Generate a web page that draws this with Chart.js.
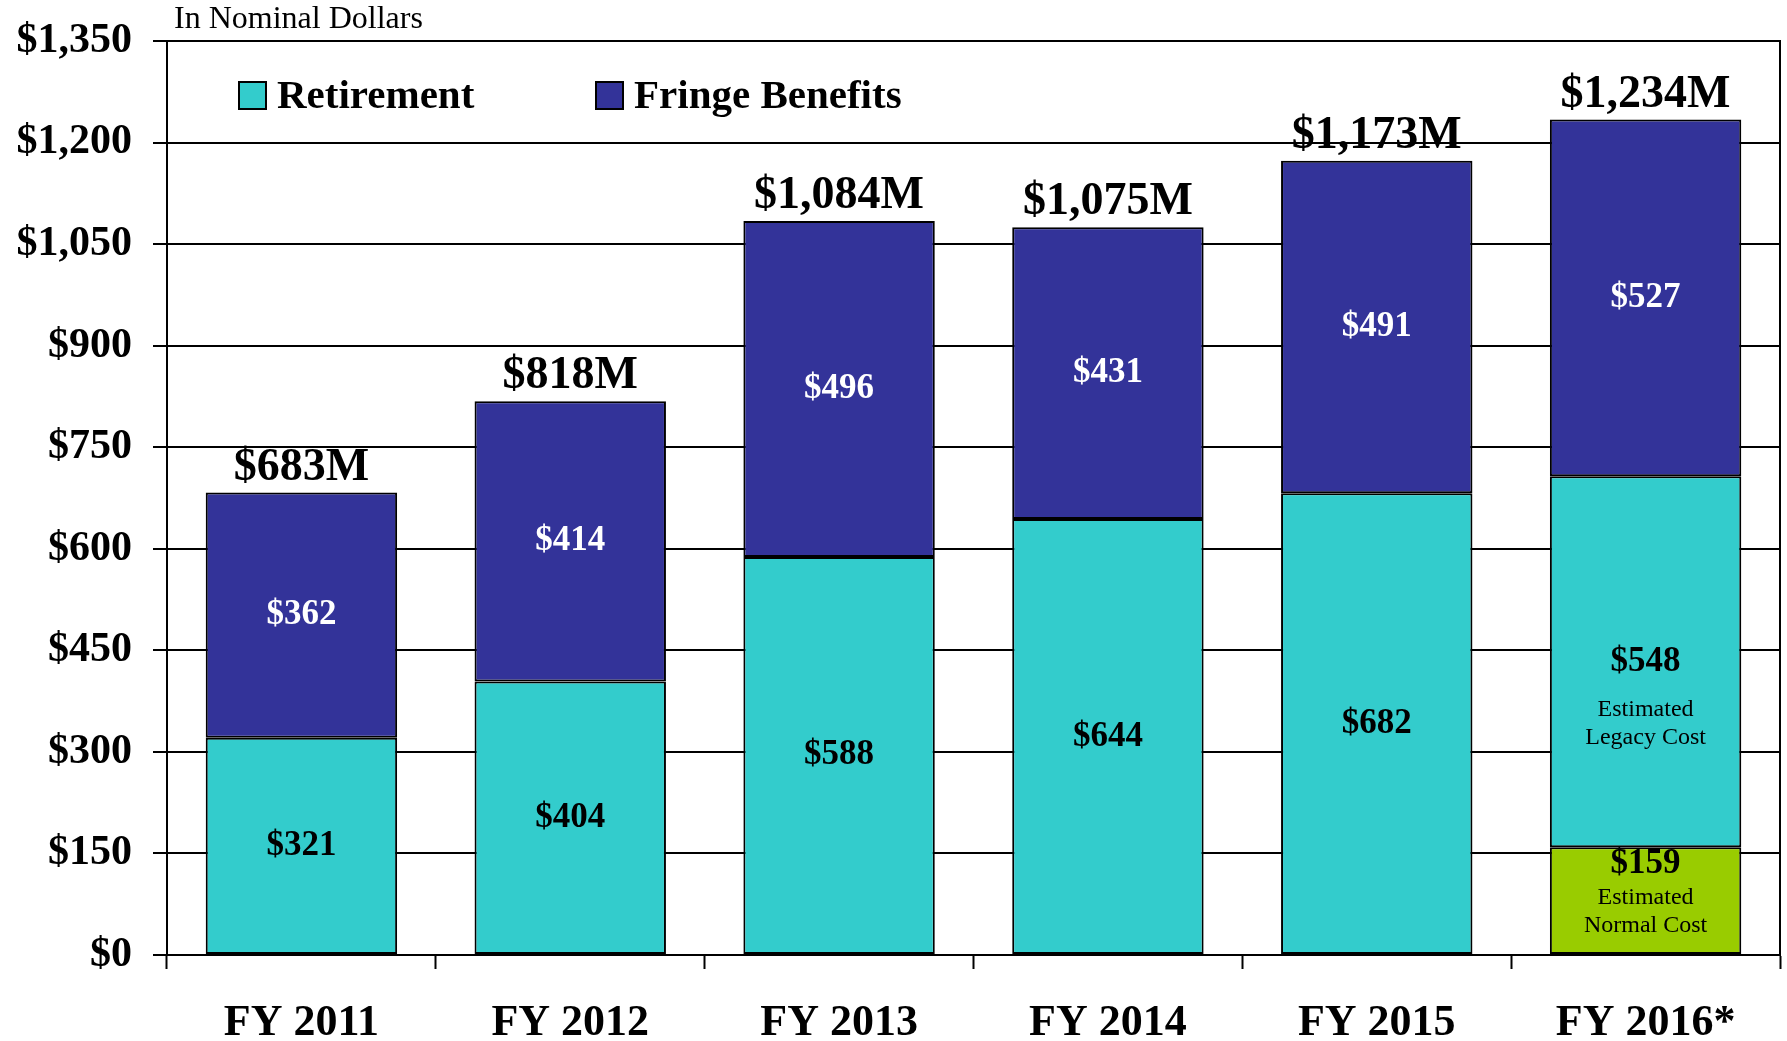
<!DOCTYPE html>
<html lang="en">
<head>
    <meta charset="UTF-8">
    <title>Retirement and Fringe Benefits, FY 2011 - FY 2016</title>
    <script src="https://cdn.jsdelivr.net/npm/chart.js"></script>
    <style>
        body { margin: 0; background: #fff; }
        #wrap { width: 1787px; height: 1041px; }
    </style>
</head>
<body>
    <div id="wrap">
        <canvas id="benefitsChart"></canvas>
    </div>

    <script>
        // Data (millions of dollars)
        const years = ['FY 2011', 'FY 2012', 'FY 2013', 'FY 2014', 'FY 2015', 'FY 2016*'];
        const normalCost = [null, null, null, null, null, 159];
        const retirement = [321, 404, 588, 644, 682, 548];
        const fringe = [362, 414, 496, 431, 491, 527];
        const totals = [683, 818, 1084, 1075, 1173, 1234];
        const yTicks = [0, 150, 300, 450, 600, 750, 900, 1050, 1200, 1350];

        const serif = '"Liberation Serif", "Times New Roman", serif';
        const money = v => '$' + v.toLocaleString('en-US');

        // notes under the FY 2016 labels
        const notes = {
            0: ['Estimated', 'Normal Cost'],
            1: ['Estimated', 'Legacy Cost']
        };

        const labelPlugin = {
            id: 'barLabels',
            afterDatasetsDraw(chart) {
                const ctx = chart.ctx;
                ctx.save();
                ctx.textAlign = 'center';
                ctx.textBaseline = 'middle';

                chart.data.datasets.forEach((ds, di) => {
                    const meta = chart.getDatasetMeta(di);
                    meta.data.forEach((bar, i) => {
                        const v = ds.data[i];
                        if (v == null) return;
                        const mid = (bar.y + bar.base) / 2;
                        ctx.fillStyle = ds.labelColor;
                        ctx.font = 'bold 35px ' + serif;
                        const note = (i === years.length - 1) ? notes[di] : null;
                        if (note && di === 0) {
                            // small segment: stack value and note around the middle
                            ctx.fillText(money(v), bar.x, mid - 37);
                            ctx.font = '24px ' + serif;
                            ctx.fillText(note[0], bar.x, mid - 3);
                            ctx.fillText(note[1], bar.x, mid + 25);
                        } else {
                            ctx.fillText(money(v), bar.x, mid);
                            if (note) {
                                ctx.font = '24px ' + serif;
                                ctx.fillText(note[0], bar.x, mid + 48);
                                ctx.fillText(note[1], bar.x, mid + 76);
                            }
                        }
                    });
                });

                // totals above each stack
                const top = chart.getDatasetMeta(2);
                ctx.fillStyle = '#000';
                ctx.font = 'bold 46px ' + serif;
                ctx.textBaseline = 'alphabetic';
                top.data.forEach((bar, i) => {
                    ctx.fillText(money(totals[i]) + 'M', bar.x, bar.y - 13);
                });

                // legend inside the plot, and the units note
                const a = chart.chartArea;
                const items = [
                    { text: 'Retirement', color: '#33CCCC', x: a.left + 72 },
                    { text: 'Fringe Benefits', color: '#333399', x: a.left + 429 }
                ];
                ctx.textAlign = 'left';
                ctx.textBaseline = 'middle';
                ctx.font = 'bold 41px ' + serif;
                items.forEach(it => {
                    ctx.fillStyle = it.color;
                    ctx.fillRect(it.x, a.top + 41, 27, 27);
                    ctx.strokeStyle = '#000';
                    ctx.lineWidth = 2;
                    ctx.strokeRect(it.x, a.top + 41, 27, 27);
                    ctx.fillStyle = '#000';
                    ctx.fillText(it.text, it.x + 38, a.top + 56);
                });

                ctx.font = '32px ' + serif;
                ctx.fillText('In Nominal Dollars', a.left + 7, 20);
                ctx.restore();
            }
        };

        const ctx = document.getElementById('benefitsChart').getContext('2d');
        new Chart(ctx, {
            type: 'bar',
            data: {
                labels: years,
                datasets: [
                    { label: 'Estimated Normal Cost', data: normalCost, backgroundColor: '#99CC00', labelColor: '#000' },
                    { label: 'Retirement', data: retirement, backgroundColor: '#33CCCC', labelColor: '#000' },
                    { label: 'Fringe Benefits', data: fringe, backgroundColor: '#333399', labelColor: '#fff' }
                ]
            },
            options: {
                responsive: true,
                maintainAspectRatio: false,
                animation: false,
                layout: { padding: { top: 41, left: 0, right: 0, bottom: 0 } },
                datasets: {
                    bar: {
                        stack: 'all',
                        barPercentage: 0.712,
                        categoryPercentage: 1,
                        borderColor: '#000',
                        borderWidth: 2,
                        borderSkipped: false
                    }
                },
                plugins: {
                    legend: { display: false },
                    tooltip: { enabled: false }
                },
                scales: {
                    x: {
                        stacked: true,
                        afterFit: s => { s.height = 86; },
                        grid: {
                            offset: true,
                            drawOnChartArea: false,
                            tickLength: 14,
                            tickColor: '#000',
                            tickWidth: 2
                        },
                        border: { color: '#000', width: 2 },
                        ticks: {
                            color: '#000',
                            padding: 28,
                            font: { family: serif, size: 44, weight: 'bold' }
                        }
                    },
                    y: {
                        stacked: true,
                        min: 0,
                        max: 1350,
                        afterFit: s => {
                            s.width = 167;
                            s.paddingTop = 0;
                            s.paddingBottom = 0;
                        },
                        afterBuildTicks: s => { s.ticks = yTicks.map(v => ({ value: v })); },
                        grid: {
                            color: '#000',
                            lineWidth: 2,
                            tickLength: 14
                        },
                        border: { color: '#000', width: 2 },
                        ticks: {
                            color: '#000',
                            padding: 21,
                            font: { family: serif, size: 42, weight: 'bold' },
                            callback: v => money(v)
                        }
                    },
                    right: {
                        position: 'right',
                        min: 0,
                        max: 1350,
                        afterFit: s => { s.width = 7; },
                        grid: { drawOnChartArea: false, drawTicks: false },
                        border: { color: '#000', width: 2 },
                        ticks: { display: false }
                    }
                }
            },
            plugins: [labelPlugin]
        });
    </script>
</body>
</html>
